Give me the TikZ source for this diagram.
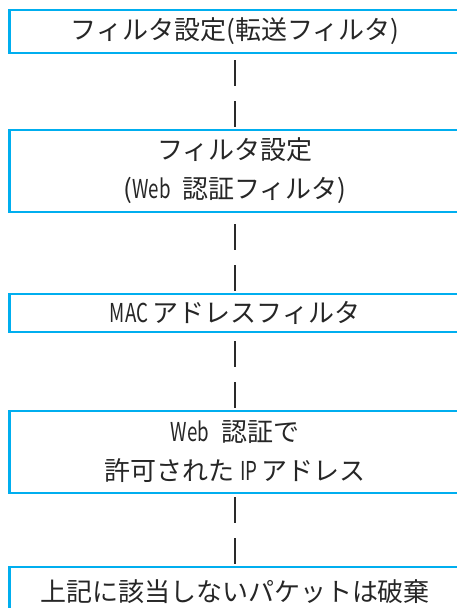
\documentclass[tikz,border=0pt]{standalone}
\usepackage{fontspec}
\setmainfont{Noto Sans CJK JP}
\definecolor{filtblue}{HTML}{00AEEF}
\definecolor{dashgray}{HTML}{2A2A2A}
% narrow latin letters
\newcommand{\nrw}[1]{\scalebox{0.72}[1]{#1}}

\begin{document}
\begin{tikzpicture}[x=1pt, y=1pt]
        \tikzstyle{blk} = [draw=filtblue, line width=2.2pt, rectangle, minimum width=451pt, align=center, inner sep=0pt, text=black!85, font=\fontsize{26}{39}\selectfont]
        \tikzstyle{dashln} = [draw=dashgray, line width=1.4pt, dash pattern=on 26pt off 15pt, shorten <=2pt]
        \path[use as bounding box, clip] (0, 0) rectangle (457, -608);
        \node[blk, minimum height=43pt] (fwd) at (235, -31.5) {フィルタ設定(転送フィルタ)};
        \node[blk, minimum height=82pt] (web) at (235, -171) {フィルタ設定\\(\nrw{Web}\ \ 認証フィルタ)};
        \node[blk, minimum height=38pt] (mac) at (235, -313) {\nrw{MAC}\,アドレスフィルタ};
        \node[blk, minimum height=82pt] (ip) at (235, -452) {\nrw{Web}\ \ 認証で\\許可された\ \nrw{IP}\,アドレス};
        \node[blk, minimum height=50pt] (drop) at (235, -592) {上記に該当しないパケットは破棄};
        \draw[dashln] (web) -- (fwd);
        \draw[dashln] (ip) -- (mac);
        \draw[dashln] (mac) -- (web);
        \draw[dashln] (drop) -- (ip);
      \end{tikzpicture}
\end{document}
